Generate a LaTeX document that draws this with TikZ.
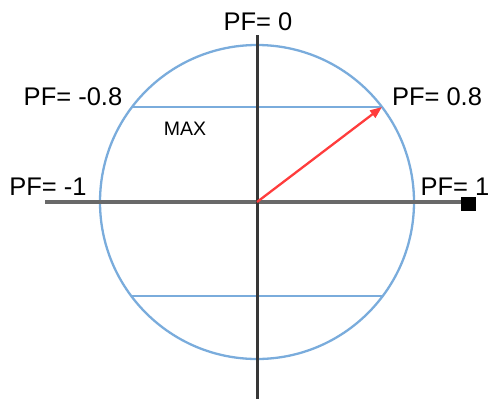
\documentclass[tikz,border=0pt]{standalone}
\usepackage{fontspec}
\setmainfont{Liberation Sans}
\usetikzlibrary{arrows.meta}
\definecolor{circblue}{RGB}{122,172,220}
\definecolor{axgray}{RGB}{105,105,105}
\definecolor{axdark}{RGB}{55,55,55}
\definecolor{arrred}{RGB}{255,60,60}
\tikzset{
  lbl/.style={inner sep=0pt, font=\fontsize{25.5}{28}\selectfont},
  small/.style={inner sep=0pt, font=\fontsize{19.5}{22}\selectfont},
  circline/.style={draw=circblue, line width=2.3pt},
}
\begin{document}
\begin{tikzpicture}[x=1pt,y=-1pt]
\useasboundingbox (0,0) rectangle (489,399);
\coordinate (O) at (257,202);
\coordinate (hl) at (45,202);
\coordinate (hr) at (465,202);
\coordinate (vt) at (257,35);
\coordinate (vb) at (257,399);
\coordinate (c1l) at (132,107);
\coordinate (c1r) at (382,107);
\coordinate (c2l) at (132,296);
\coordinate (c2r) at (382,296);
% circle and chords
\draw[circline] (O) circle (157);
\draw[circline] (c1l) -- (c1r);
\draw[circline] (c2l) -- (c2r);
% axes
\draw[axgray, line width=4.5pt] (hl) -- (hr);
\draw[axdark, line width=3pt] (vt) -- (vb);
\node[fill=black, minimum width=15pt, minimum height=14pt, inner sep=0pt] (sq) at (468,204) {};
% arrow
\draw[arrred, line width=2.3pt, -{Triangle[length=12pt,width=9pt]}] (O) -- (c1r);
% labels
\node[lbl] (pf0) at (258,22) {PF= 0};
\node[lbl] (pfm08) at (73,97) {PF= -0.8};
\node[lbl] (pf08) at (437,97) {PF= 0.8};
\node[lbl] (pfm1) at (48,187) {PF= -1};
\node[lbl] (pf1) at (455,187) {PF= 1};
\node[small] (max) at (185,129) {MAX};
\end{tikzpicture}
\end{document}
